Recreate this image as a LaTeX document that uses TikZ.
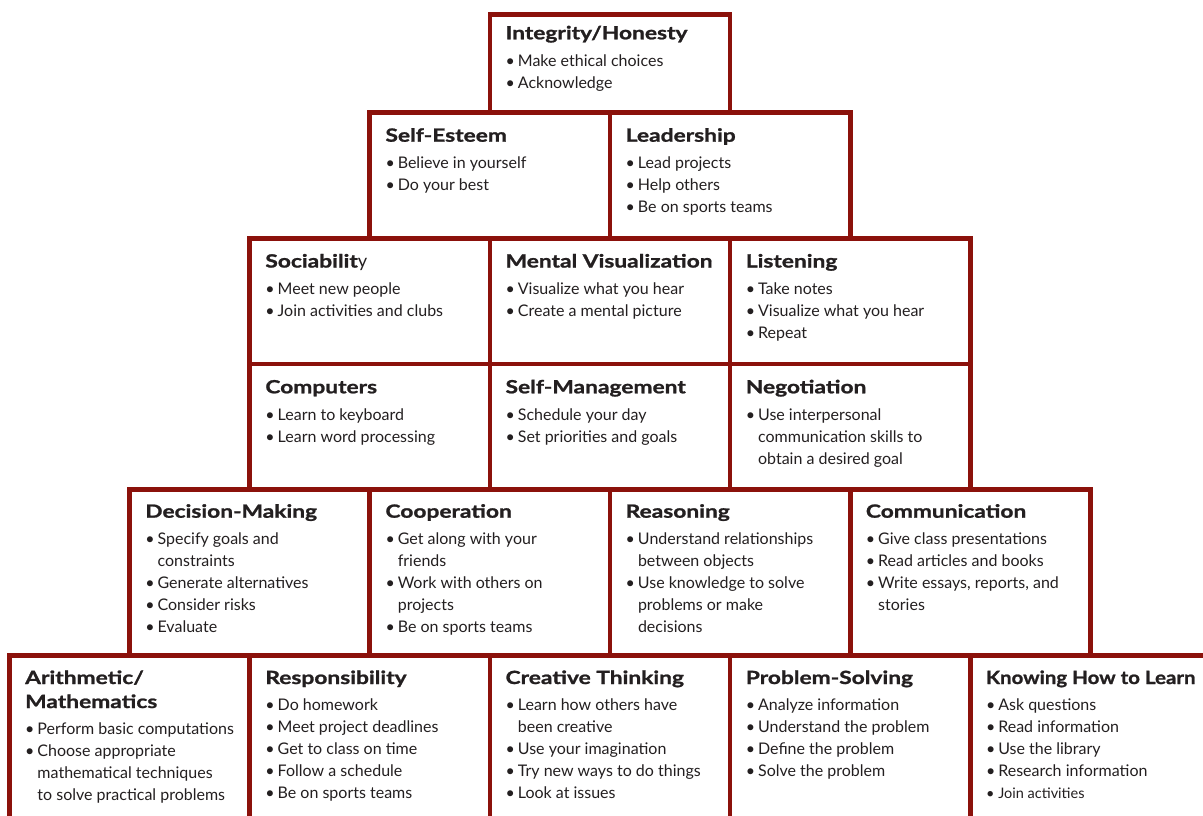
\documentclass[tikz,border=0pt]{standalone}
\usepackage{fontspec}
\usepackage{graphicx}
\setmainfont{Lato}
\newfontfamily\titlefam{Lato}[BoldFeatures={FakeStretch=1.25,FakeBold=1.2}]
\definecolor{boxred}{RGB}{139,17,11}
\definecolor{txt}{RGB}{35,31,32}
\newlength\bulw \setlength\bulw{12.3pt}
\newcommand\titlefont{\fontsize{18.2}{24}\selectfont\titlefam\bfseries}
\newcommand\bodyfont{\fontsize{16}{22}\selectfont\mdseries}
\newcommand\ttl[1]{\hbox{\titlefont #1}}
\newcommand\itm[1]{\hbox{\bodyfont\makebox[\bulw][l]{•}#1}}
\newcommand\cnt[1]{\hbox{\bodyfont\hspace{\bulw}#1}}
\newcommand\gap{\vskip4.7pt\baselineskip=22pt }
\tikzset{
  skbox/.style={draw=boxred, line width=4.7pt, rectangle, minimum width=240.2pt,
    inner sep=0pt, outer sep=0pt, anchor=north west},
  sktext/.style={anchor=base west, inner sep=0pt, outer sep=0pt, text=txt}
}
% #1 name, #2 x, #3 top y, #4 height, #5 title baseline offset, #6 content
\newcommand\skill[6]{%
  \node[skbox, minimum height=#4pt] (#1) at (#2,#3) {};
  \node[sktext] (#1-t) at ([xshift=15.7pt,yshift=-#5pt]#1.north west)
    {\vtop{\baselineskip=24pt\relax #6}};
}
\begin{document}
\begin{tikzpicture}[x=1pt,y=-1pt]
\useasboundingbox (0,0) rectangle (1203,815);
\clip (0,0) rectangle (1203,815);
\fill[white] (0,0) rectangle (1203,815);
% row 1
\skill{integ}{489.9}{14.3}{98.2}{25}{\ttl{Integrity/Honesty}\gap
  \itm{Make ethical choices}\itm{Acknowledge}}
% row 2
\skill{selfe}{369.8}{112.5}{126}{29.2}{\ttl{Self-Esteem}\gap
  \itm{Believe in yourself}\itm{Do your best}}
\skill{lead}{610.0}{112.5}{126}{29.2}{\ttl{Leadership}\gap
  \itm{Lead projects}\itm{Help others}\itm{Be on sports teams}}
% row 3
\skill{soc}{249.7}{238.5}{125.5}{29}{\ttl{Sociabilit{\mdseries y}}\gap
  \itm{Meet new people}\itm{Join activities and clubs}}
\skill{mental}{489.9}{238.5}{125.5}{29}{\ttl{Mental Visualization}\gap
  \itm{Visualize what you hear}\itm{Create a mental picture}}
\skill{listen}{730.1}{238.5}{125.5}{29}{\ttl{Listening}\gap
  \itm{Take notes}\itm{Visualize what you hear}\itm{Repeat}}
% row 4
\skill{comp}{249.7}{364}{125.5}{29.3}{\ttl{Computers}\gap
  \itm{Learn to keyboard}\itm{Learn word processing}}
\skill{selfm}{489.9}{364}{125.5}{29.3}{\ttl{Self-Management}\gap
  \itm{Schedule your day}\itm{Set priorities and goals}}
\skill{nego}{730.1}{364}{125.5}{29.3}{\ttl{Negotiation}\gap
  \itm{Use interpersonal}\cnt{communication skills to}\cnt{obtain a desired goal}}
% row 5
\skill{decis}{129.6}{489.5}{166}{28.2}{\ttl{Decision-Making}\gap
  \itm{Specify goals and}\cnt{constraints}\itm{Generate alternatives}\itm{Consider risks}\itm{Evaluate}}
\skill{coop}{369.8}{489.5}{166}{28.2}{\ttl{Cooperation}\gap
  \itm{Get along with your}\cnt{friends}\itm{Work with others on}\cnt{projects}\itm{Be on sports teams}}
\skill{reason}{610.0}{489.5}{166}{28.2}{\ttl{Reasoning}\gap
  \itm{Understand relationships}\cnt{between objects}\itm{Use knowledge to solve}\cnt{problems or make}\cnt{decisions}}
\skill{commu}{850.2}{489.5}{166}{28.2}{\ttl{Communication}\gap
  \itm{Give class presentations}\itm{Read articles and books}\itm{Write essays, reports, and}\cnt{stories}}
% row 6
\skill{arith}{9.5}{655.5}{200}{28.5}{\ttl{Arithmetic/}\ttl{Mathematics}\gap
  \itm{Perform basic computations}\itm{Choose appropriate}\cnt{mathematical techniques}\cnt{to solve practical problems}}
\skill{resp}{249.7}{655.5}{200}{28.5}{\ttl{Responsibility}\gap
  \itm{Do homework}\itm{Meet project deadlines}\itm{Get to class on time}\itm{Follow a schedule}\itm{Be on sports teams}}
\skill{creat}{489.9}{655.5}{200}{28.5}{\ttl{Creative Thinking}\gap
  \itm{Learn how others have}\cnt{been creative}\itm{Use your imagination}\itm{Try new ways to do things}\itm{Look at issues}}
\skill{probl}{730.1}{655.5}{200}{28.5}{\ttl{Problem-Solving}\gap
  \itm{Analyze information}\itm{Understand the problem}\itm{Define the problem}\itm{Solve the problem}}
\skill{know}{970.3}{655.5}{200}{28.5}{\ttl{\scalebox{0.9}[1]{Knowing How to Learn}}\gap
  \itm{Ask questions}\itm{Read information}\itm{Use the library}\itm{Research information}
  \hbox{\fontsize{14.5}{22}\selectfont\makebox[\bulw][l]{•}Join activities}}
\end{tikzpicture}
\end{document}
